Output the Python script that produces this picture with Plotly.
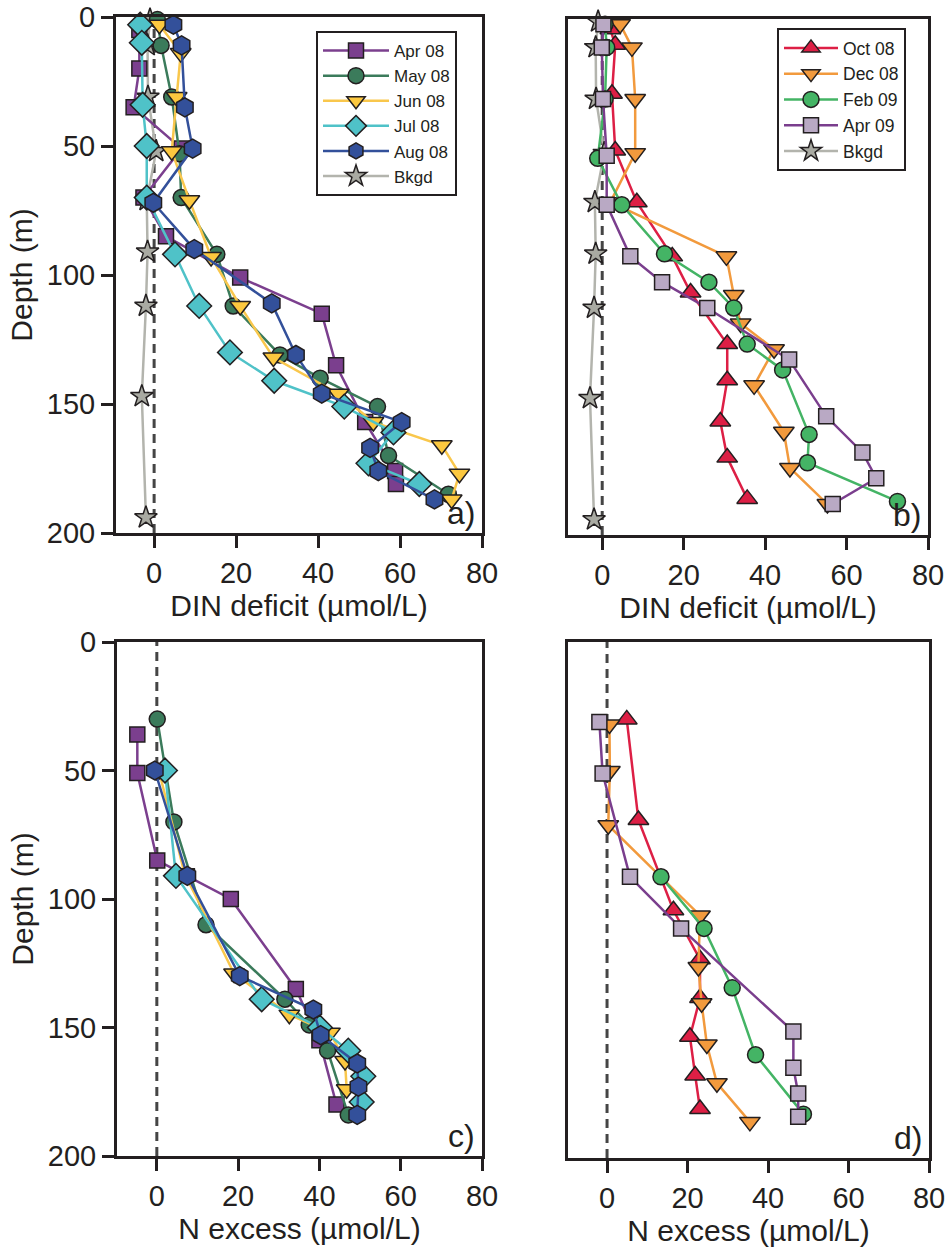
import plotly.graph_objects as go

# ---------------- data ----------------
# Panel a: DIN deficit (umol/L) vs depth (m)
apr08_a_depth = [5, 20, 35, 51, 70, 85, 101, 115, 135, 157, 176, 181]
apr08_a_x = [-3.6, -3.6, -5.0, 6.7, -2.6, 2.9, 21.0, 40.9, 44.4, 51.5, 58.8, 59.0]
may08_a_depth = [1, 11, 31, 53, 70, 92, 112, 131, 140, 151, 170, 185]
may08_a_x = [0.8, 1.7, 4.3, 6.2, 6.6, 15.3, 19.3, 30.7, 40.5, 54.5, 57.2, 71.8]
jun08_a_depth = [3, 14, 31, 52, 71, 93, 112, 132, 146, 157, 166, 177, 187]
jun08_a_x = [1.3, 6.5, 5.5, 4.3, 8.6, 13.9, 21.0, 29.1, 45.0, 53.5, 70.2, 74.5, 72.6]
jul08_a_depth = [3, 10, 34, 50, 70, 92, 112, 130, 141, 151, 161, 173, 181]
jul08_a_x = [-3.4, -3.0, -2.8, -1.8, -1.8, 5.1, 11.0, 18.5, 29.3, 46.4, 58.4, 52.3, 64.7]
aug08_a_depth = [3, 11, 35, 51, 72, 90, 111, 131, 146, 157, 167, 176, 187]
aug08_a_x = [4.7, 6.7, 7.5, 9.4, -0.2, 9.8, 28.7, 34.6, 40.9, 60.4, 52.7, 54.7, 68.4]
bkgd_depth = [1, 11, 31, 52, 71, 91, 112, 147, 194]
bkgd_x = [-1.0, -1.6, -1.5, 0.5, -1.8, -1.6, -2.0, -3.0, -2.0]

# Panel b: DIN deficit
oct08_b_depth = [4, 10, 29, 51, 71, 92, 106, 126, 140, 156, 170, 186]
oct08_b_x = [2.0, 3.2, 2.4, 3.2, 8.5, 17.2, 21.7, 30.7, 30.7, 29.0, 30.7, 35.6]
dec08_b_depth = [2, 11, 31, 52, 71, 92, 107, 118, 128, 142, 160, 174, 188]
dec08_b_x = [4.4, 7.3, 8.1, 8.1, 2.0, 30.5, 32.3, 34.0, 42.2, 37.3, 44.6, 46.1, 55.3]
feb09_b_depth = [2, 11, 31, 54, 72, 91, 102, 112, 126, 136, 161, 172, 187]
feb09_b_x = [0.7, 1.1, 0.7, -1.1, 4.8, 15.3, 26.2, 32.3, 35.6, 44.3, 50.8, 50.4, 72.5]
apr09_b_depth = [2, 11, 31, 53, 72, 92, 102, 112, 132, 154, 168, 178, 188]
apr09_b_x = [0.3, -0.1, 0.2, 1.1, 1.1, 6.9, 14.7, 25.8, 45.9, 55.0, 63.9, 67.3, 56.6]

# Panel c: N excess (umol/L)
apr08_c_depth = [36, 51, 85, 100, 135, 155, 180]
apr08_c_x = [-4.8, -4.8, 0.1, 18.2, 34.2, 40.0, 44.2]
may08_c_depth = [30, 70, 110, 139, 149, 159, 184]
may08_c_x = [0.1, 4.2, 12.1, 31.5, 37.5, 42.0, 47.1]
jun08_c_depth = [50, 90, 129, 145, 152, 163, 174]
jun08_c_x = [0.5, 6.8, 19.0, 32.6, 42.6, 46.3, 46.7]
jul08_c_depth = [50, 91, 139, 150, 159, 169, 179]
jul08_c_x = [2.0, 4.7, 25.8, 40.1, 47.1, 50.8, 50.4]
aug08_c_depth = [50, 91, 130, 143, 153, 164, 173, 184]
aug08_c_x = [-0.5, 7.5, 20.4, 38.5, 40.3, 49.3, 49.6, 49.3]

# Panel d: N excess
oct08_d_depth = [30, 69, 104, 123, 138, 153, 168, 181]
oct08_d_x = [4.9, 7.8, 16.5, 23.1, 23.1, 20.6, 21.9, 23.1]
dec08_d_depth = [32, 50, 71, 106, 126, 140, 156, 171, 186]
dec08_d_x = [0.6, 0.7, 0.3, 23.1, 22.7, 23.5, 24.8, 27.3, 35.5]
feb09_d_depth = [91, 111, 134, 160, 183]
feb09_d_x = [13.4, 24.1, 31.1, 36.9, 48.8]
apr09_d_depth = [31, 51, 91, 111, 151, 165, 175, 184]
apr09_d_x = [-1.9, -1.1, 5.7, 18.4, 46.3, 46.3, 47.5, 47.5]

x_ticks = [0, 20, 40, 60, 80]
y_ticks = [0, 50, 100, 150, 200]

# ---------------- styles ----------------
FONT = "Liberation Sans, Arial, sans-serif"
INK = "#231f20"
styles = {
    "Apr 08": dict(fill="#7b3f8e", line="#7b3f8e", symbol="square", size=15),
    "May 08": dict(fill="#3b7b5b", line="#3b7b5b", symbol="circle", size=16),
    "Jun 08": dict(fill="#fcc83f", line="#f9c74c", symbol="triangle-down", size=18),
    "Jul 08": dict(fill="#4fc2c8", line="#4fc2c8", symbol="diamond", size=19),
    "Aug 08": dict(fill="#33509a", line="#33509a", symbol="hexagon", size=19),
    "Bkgd": dict(fill="#a9aaa2", line="#b3b4ad", symbol="star", size=17),
    "Oct 08": dict(fill="#dd1f45", line="#dd1f45", symbol="triangle-up", size=18),
    "Dec 08": dict(fill="#f29a3d", line="#f29a3d", symbol="triangle-down", size=18),
    "Feb 09": dict(fill="#44b465", line="#44b465", symbol="circle", size=16),
    "Apr 09": dict(fill="#b9a9c4", line="#7a3e8d", symbol="square", size=15),
}

fig = go.Figure()


def add(name, x, y, ax, legend="legend", show=False):
    s = styles[name]
    fig.add_trace(go.Scatter(
        x=x, y=y, mode="lines+markers", name=name,
        xaxis="x" + ("" if ax == 1 else str(ax)),
        yaxis="y" + ("" if ax == 1 else str(ax)),
        line=dict(color=s["line"], width=2.5),
        marker=dict(symbol=s["symbol"], size=s["size"], color=s["fill"],
                    line=dict(color=INK, width=1.5)),
        showlegend=show, legend=legend,
        cliponaxis=False,
    ))


def legend_only(name, ax, legend):
    s = styles[name]
    fig.add_trace(go.Scatter(
        x=[None], y=[None], mode="lines+markers", name=name,
        xaxis="x" + ("" if ax == 1 else str(ax)),
        yaxis="y" + ("" if ax == 1 else str(ax)),
        line=dict(color=s["line"], width=2.5),
        marker=dict(symbol=s["symbol"], size=s["size"], color=s["fill"],
                    line=dict(color=INK, width=1.5)),
        showlegend=True, legend=legend))


# panel a
add("Bkgd", bkgd_x, bkgd_depth, 1)
add("Apr 08", apr08_a_x, apr08_a_depth, 1, "legend", True)
add("May 08", may08_a_x, may08_a_depth, 1, "legend", True)
add("Jun 08", jun08_a_x, jun08_a_depth, 1, "legend", True)
add("Jul 08", jul08_a_x, jul08_a_depth, 1, "legend", True)
add("Aug 08", aug08_a_x, aug08_a_depth, 1, "legend", True)
legend_only("Bkgd", 1, "legend")

# panel b
add("Bkgd", bkgd_x, bkgd_depth, 2)
add("Oct 08", oct08_b_x, oct08_b_depth, 2, "legend2", True)
add("Dec 08", dec08_b_x, dec08_b_depth, 2, "legend2", True)
add("Feb 09", feb09_b_x, feb09_b_depth, 2, "legend2", True)
add("Apr 09", apr09_b_x, apr09_b_depth, 2, "legend2", True)
legend_only("Bkgd", 2, "legend2")

# panel c
add("Apr 08", apr08_c_x, apr08_c_depth, 3)
add("May 08", may08_c_x, may08_c_depth, 3)
add("Jun 08", jun08_c_x, jun08_c_depth, 3)
add("Jul 08", jul08_c_x, jul08_c_depth, 3)
add("Aug 08", aug08_c_x, aug08_c_depth, 3)

# panel d
add("Oct 08", oct08_d_x, oct08_d_depth, 4)
add("Dec 08", dec08_d_x, dec08_d_depth, 4)
add("Feb 09", feb09_d_x, feb09_d_depth, 4)
add("Apr 09", apr09_d_x, apr09_d_depth, 4)

# the page body margin is removed (post_script below), so the figure fills the window
W, H = 951, 1254


def px(x0, x1):
    return [x0 / W, x1 / W]


def py(top, bottom):
    return [1 - bottom / H, 1 - top / H]


tickfont = dict(family=FONT, size=29, color=INK)
titlefont = dict(family=FONT, size=30, color=INK)


def xax(domain, anchor, rng, title):
    return dict(domain=domain, anchor=anchor, range=rng, tickvals=x_ticks,
                ticktext=[str(v) for v in x_ticks], automargin=False,
                ticklabeloverflow="allow",
                showline=True, mirror=True, linecolor=INK, linewidth=3,
                ticks="outside", ticklen=12, tickwidth=3, tickcolor=INK,
                showgrid=False, zeroline=False, tickfont=tickfont,
                title=dict(text=title, font=titlefont, standoff=0))


def yax(domain, anchor, labels):
    d = dict(domain=domain, anchor=anchor, range=[200, 0], automargin=False,
             showline=True, mirror=True, linecolor=INK, linewidth=3,
             showgrid=False, zeroline=False)
    if labels:
        d.update(tickvals=y_ticks, ticktext=[str(v) for v in y_ticks],
                 ticklabeloverflow="allow",
                 ticks="outside", ticklen=12, tickwidth=3, tickcolor=INK,
                 tickfont=tickfont,
                 title=dict(text="Depth (m)", font=titlefont, standoff=6))
    else:
        d.update(showticklabels=False, ticks="")
    return d


din = "DIN deficit (µmol/L)"
nex = "N excess (µmol/L)"

layout = dict(
    width=W, height=H, autosize=False,
    margin=dict(l=0, r=0, t=0, b=0, pad=0, autoexpand=False),
    paper_bgcolor="white", plot_bgcolor="white",
    font=dict(family=FONT, color=INK),
    xaxis=xax(px(116, 482), "y", [-9.3, 80], din),
    yaxis=yax(py(17, 533), "x", True),
    xaxis2=xax(px(568, 928), "y2", [-8.4, 80], din),
    yaxis2=yax(py(19, 535), "x2", False),
    xaxis3=xax(px(117, 482), "y3", [-9.8, 80], nex),
    yaxis3=yax(py(642, 1156), "x3", True),
    xaxis4=xax(px(568, 929), "y4", [-9.7, 80], nex),
    yaxis4=yax(py(642, 1158), "x4", False),
    legend=dict(x=316 / W, y=1 - 31 / H, xanchor="left", yanchor="top",
                bordercolor=INK, borderwidth=2, bgcolor="white",
                font=dict(family=FONT, size=17, color=INK), itemwidth=66, tracegroupgap=0),
    legend2=dict(x=777 / W, y=1 - 28 / H, xanchor="left", yanchor="top",
                 bordercolor=INK, borderwidth=2, bgcolor="white",
                 font=dict(family=FONT, size=17.5, color=INK), itemwidth=54, tracegroupgap=0),
)
fig.update_layout(**layout)

# dashed zero reference lines
for i in ["", "2", "3", "4"]:
    fig.add_shape(type="line", xref="x" + i, yref="y" + i + " domain",
                  x0=0, x1=0, y0=0, y1=1, layer="below",
                  line=dict(color="#454545", width=3, dash="9px,6px"))

# panel labels
for i, lab in zip(["", "2", "3", "4"], ["a)", "b)", "c)", "d)"]):
    fig.add_annotation(text=lab, xref="x" + i + " domain", yref="y" + i + " domain",
                       x=0.985, y=0.0, xanchor="right", yanchor="bottom",
                       showarrow=False, font=dict(family=FONT, size=32, color=INK))

fig.write_html("out.html", config={"displayModeBar": False},
               post_script="document.body.style.margin='0px';")
